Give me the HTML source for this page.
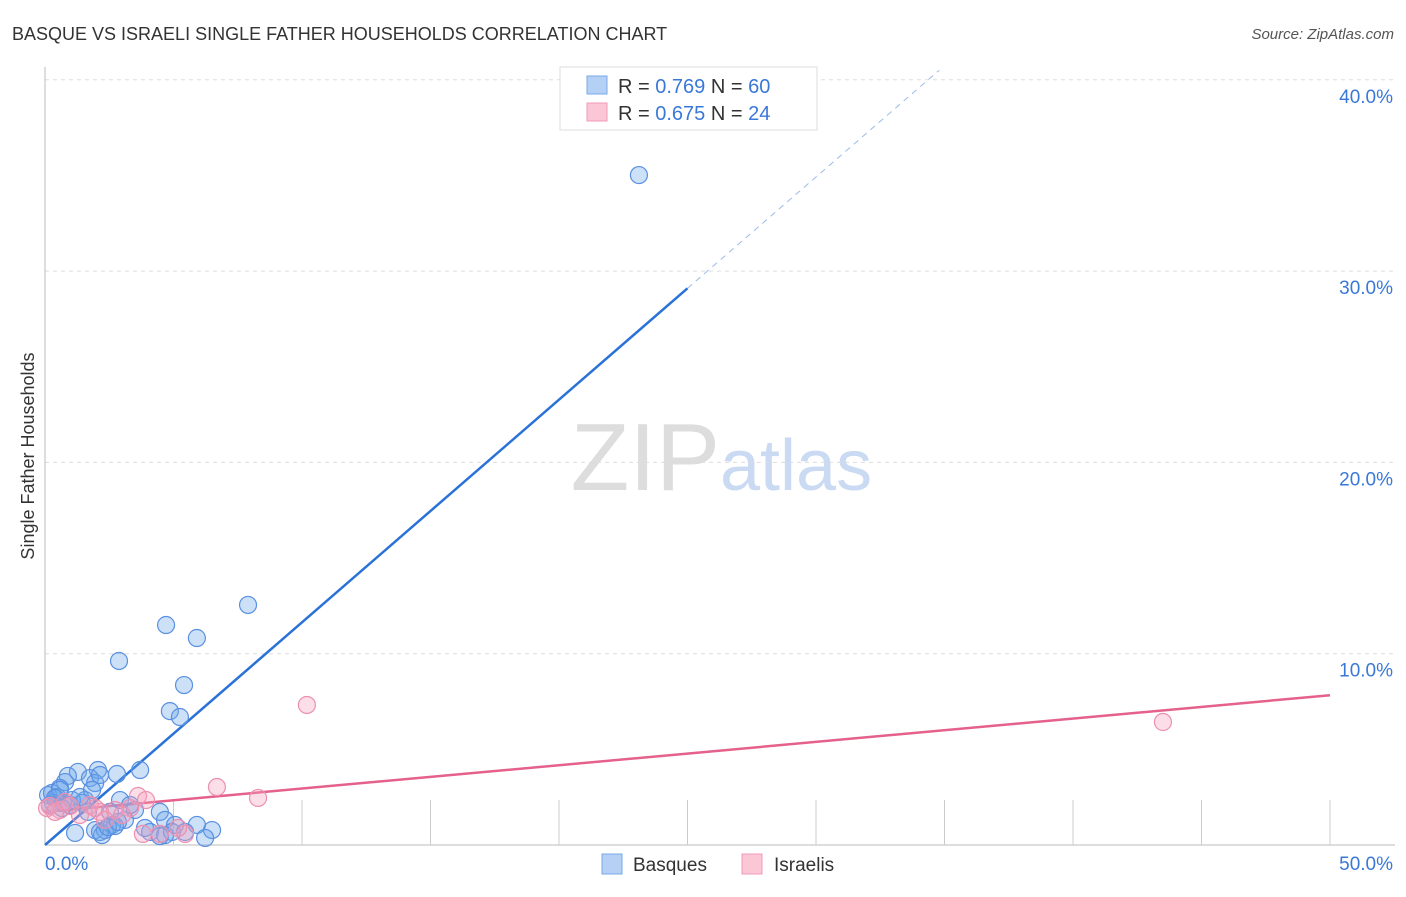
<!DOCTYPE html>
<html><head><meta charset="utf-8"><style>
body{margin:0;background:#fff;font-family:"Liberation Sans",sans-serif}
svg text{font-family:"Liberation Sans",sans-serif}
</style></head><body>
<svg id="c" width="1406" height="892" xmlns="http://www.w3.org/2000/svg">
<text x="12" y="40" font-size="18" fill="#333">BASQUE VS ISRAELI SINGLE FATHER HOUSEHOLDS CORRELATION CHART</text>
<text x="1394" y="39" font-size="15" fill="#555" font-style="italic" text-anchor="end">Source: ZipAtlas.com</text>
<text x="720" y="490" font-size="96" fill="#ddd" text-anchor="end" font-family="Liberation Serif">ZIP</text>
<text x="720" y="490" font-size="72" fill="#c9daf2">atlas</text>
<text transform="translate(34,456) rotate(-90)" font-size="18" fill="#333" text-anchor="middle">Single Father Households</text>
<g id="grid"></g><g id="trend"></g><g id="pts"></g>
<g>
<rect x="560" y="67" width="257" height="63" fill="#fff" stroke="#ddd"/>
<rect x="587" y="76" width="20" height="18" fill="#b5d0f5" stroke="#7aa8e8"/>
<rect x="587" y="103" width="20" height="18" fill="#fbc6d6" stroke="#f09ab5"/>
<text x="618" y="93" font-size="20" fill="#333">R = <tspan fill="#3a78d8">0.769</tspan>   N = <tspan fill="#3a78d8">60</tspan></text>
<text x="618" y="120" font-size="20" fill="#333">R = <tspan fill="#3a78d8">0.675</tspan>   N = <tspan fill="#3a78d8">24</tspan></text>
</g>
<g>
<rect x="602" y="854" width="20" height="20" fill="#b5d0f5" stroke="#7aa8e8"/>
<text x="633" y="871" font-size="19" fill="#333">Basques</text>
<rect x="742" y="854" width="20" height="20" fill="#fbc6d6" stroke="#f09ab5"/>
<text x="774" y="871" font-size="19" fill="#333">Israelis</text>
</g>
</svg>
<script>
const yTicks=[10,20,30,40];
const xTickLabels=["0.0%","50.0%"];
const basqueX=[23.11,7.90,4.71,5.91,2.88,5.41,4.86,5.25,3.70,2.80,2.06,1.28,0.89,1.75,0.78,1.95,0.58,0.27,0.12,0.47,1.56,1.05,0.70,1.44,0.31,0.19,2.92,3.50,2.53,4.47,4.67,3.11,5.06,2.61,1.95,2.33,2.72,4.09,4.67,4.94,5.91,6.50,1.17,2.22,2.14,6.23,5.45,1.67,0.58,0.39,0.97,1.36,0.66,3.31,3.89,4.47,2.45,2.84,1.83,2.14];
const basqueY=[35.02,12.55,11.50,10.82,9.62,8.36,7.00,6.69,3.92,3.71,3.92,3.82,3.61,3.50,3.29,3.24,2.98,2.72,2.61,2.51,2.35,2.35,2.20,2.20,2.20,2.09,2.35,1.83,1.73,1.73,1.31,1.31,1.05,1.05,0.78,0.78,0.99,0.68,0.52,0.68,1.05,0.78,0.63,0.52,0.68,0.37,0.68,1.73,2.88,2.46,2.09,2.51,1.93,2.09,0.89,0.47,0.94,1.20,2.88,3.66];
const israeliX=[43.50,10.19,6.69,8.29,3.62,3.93,3.31,2.72,2.14,1.75,0.97,0.58,0.19,0.08,1.36,3.00,2.33,4.47,3.81,5.45,5.18,1.95,0.78,0.39];
const israeliY=[6.43,7.32,3.03,2.46,2.56,2.35,1.93,1.83,1.73,2.09,2.04,1.83,2.04,1.93,1.57,1.57,1.31,0.58,0.58,0.58,0.89,1.93,2.25,1.73];
const basqueTrend=[0,1.164]; // intercept, slope
const israeliTrend=[1.73,0.122];
const NS="http://www.w3.org/2000/svg";
const sx=v=>45+v*25.7, sy=v=>845-v*19.13;
function mk(t,a,p){const e=document.createElementNS(NS,t);for(const k in a)e.setAttribute(k,a[k]);p.appendChild(e);return e;}
const grid=document.getElementById('grid');
for(const t of yTicks){
 const l=mk('line',{x1:45,x2:1395,y1:sy(t),y2:sy(t),stroke:'#ddd','stroke-dasharray':'4,4'},grid);
 
 
 const tx=mk('text',{x:1393,y:sy(t)+23,'font-size':19,fill:'#3a78d8','text-anchor':'end'},grid);
 tx.textContent=t.toFixed(1)+'%';
 
 
}
mk('line',{x1:45,x2:1395,y1:845,y2:845,stroke:'#bbb'},grid);
mk('line',{x1:45,x2:45,y1:67,y2:845,stroke:'#bbb'},grid);
for(let v=5;v<=50;v+=5){const t=mk('line',{x1:sx(v),x2:sx(v),y1:800,y2:845,stroke:'#ccc'},grid);
 
 }
const xl0=mk('text',{x:45,y:870,'font-size':19,fill:'#3a78d8'},grid);xl0.textContent=xTickLabels[0];


const xl1=mk('text',{x:1393,y:870,'font-size':19,fill:'#3a78d8','text-anchor':'end'},grid);xl1.textContent=xTickLabels[1];


const tr=document.getElementById('trend');
const bEnd=25.0, bDash=(40.5-basqueTrend[0])/basqueTrend[1];
const bl=mk('line',{x1:sx(0),y1:sy(basqueTrend[0]),x2:sx(bEnd),y2:sy(basqueTrend[0]+basqueTrend[1]*bEnd),stroke:'#2a72d8','stroke-width':2.5},tr);


const bd=mk('line',{x1:sx(bEnd),y1:sy(basqueTrend[0]+basqueTrend[1]*bEnd),x2:sx(bDash),y2:sy(basqueTrend[0]+basqueTrend[1]*bDash),stroke:'#9bbbe8','stroke-width':1,'stroke-dasharray':'6,5'},tr);


const il=mk('line',{x1:sx(0),y1:sy(israeliTrend[0]),x2:sx(50),y2:sy(israeliTrend[0]+israeliTrend[1]*50),stroke:'#e5608a','stroke-width':2.5},tr);


const pts=document.getElementById('pts');
basqueX.forEach((x,i)=>{const c=mk('circle',{cx:sx(x),cy:sy(basqueY[i]),r:8.5,fill:'rgba(110,165,235,0.35)',stroke:'#5a90e0','stroke-width':1.2},pts);
 
 });
israeliX.forEach((x,i)=>{const c=mk('circle',{cx:sx(x),cy:sy(israeliY[i]),r:8.5,fill:'rgba(245,160,190,0.35)',stroke:'#ec90b0','stroke-width':1.2},pts);
 
 });
</script>
</body></html>
